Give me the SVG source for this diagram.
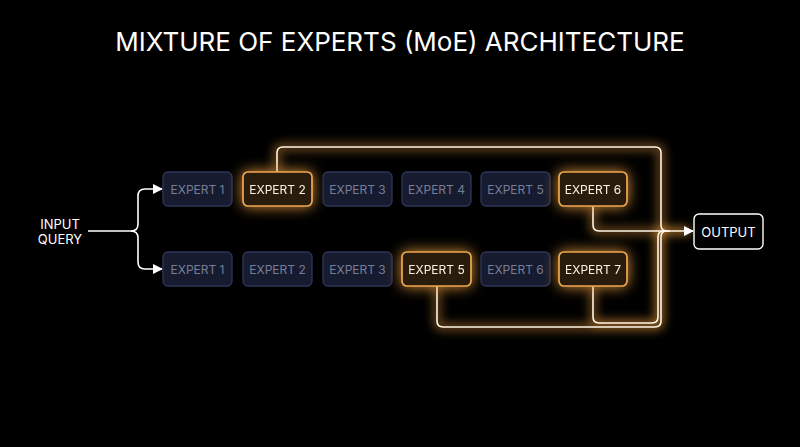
<svg xmlns="http://www.w3.org/2000/svg" width="800" height="447" viewBox="0 0 800 447">
<defs>
<style>
.t{font-family:Inter,"Noto Sans","Liberation Sans",sans-serif;text-anchor:middle;dominant-baseline:central}
.title{font-size:26px;fill:#ffffff;font-weight:400}
.off rect{fill:#161b30;stroke:#2f3658;stroke-width:1.3}
.off text{font-size:12px;fill:#767d95}
.on rect{fill:#2a1b0a;stroke:#f0a850;stroke-width:1.7}
.on text{font-size:12px;fill:#fdf2e2}
.lbl{font-size:13px;fill:#ffffff}
.wire{fill:none;stroke:#fff6e8;stroke-width:1.6}
.glowwire{fill:none;stroke:#e89a3a;stroke-width:8;opacity:0.45}
.in{fill:none;stroke:#ffffff;stroke-width:1.6}
</style>
<filter id="glow" x="-60%" y="-80%" width="220%" height="260%">
<feGaussianBlur in="SourceAlpha" stdDeviation="7" result="b"/>
<feFlood flood-color="#f0a040" flood-opacity="0.9"/>
<feComposite in2="b" operator="in" result="g"/>
<feMerge><feMergeNode in="g"/><feMergeNode in="SourceGraphic"/></feMerge>
</filter>
<filter id="lineglow" x="-20%" y="-20%" width="140%" height="140%">
<feGaussianBlur stdDeviation="5"/>
</filter>
<marker id="ah" viewBox="0 0 10 10" refX="9" refY="5" markerWidth="10" markerHeight="10" markerUnits="userSpaceOnUse" orient="auto">
<path d="M0,0 L10,5 L0,10 z" fill="#ffffff"/>
</marker>
</defs>
<rect width="800" height="447" fill="#000000"/>
<text class="t title" x="400" y="41">MIXTURE OF EXPERTS (MoE) ARCHITECTURE</text>

<g id="connectors">
<g filter="url(#lineglow)">
<path class="glowwire" d="M277,172 V153 Q277,147 283,147 H655 Q661,147 661,153 V225 Q661,231 667,231 H690"/>
<path class="glowwire" d="M593,206 V225 Q593,231 599,231 H690"/>
<path class="glowwire" d="M437,286 V321 Q437,327 443,327 H655 Q661,327 661,321 V237 Q661,231 667,231"/>
<path class="glowwire" d="M593,286 V317 Q593,323 599,323 H652 Q658,323 658,317 V237 Q658,231 664,231"/>
</g>
<path class="wire" d="M277,172 V153 Q277,147 283,147 H655 Q661,147 661,153 V225 Q661,231 667,231 H693" marker-end="url(#ah)"/>
<path class="wire" d="M593,206 V225 Q593,231 599,231 H670"/>
<path class="wire" d="M437,286 V321 Q437,327 443,327 H655 Q661,327 661,321 V237 Q661,231 667,231"/>
<path class="wire" d="M593,286 V317 Q593,323 599,323 H652 Q658,323 658,317 V237 Q658,231 664,231"/>
<path class="in" d="M88,231 H131 Q138,231 138,224 V196 Q138,189 145,189 H162" marker-end="url(#ah)"/>
<path class="in" d="M131,231 Q138,231 138,238 V262 Q138,269 145,269 H162" marker-end="url(#ah)"/>
</g>

<g id="input"><text class="t lbl" x="60" y="224">INPUT</text><text class="t lbl" x="60" y="239">QUERY</text></g>

<g id="r1e1" class="off"><rect x="163" y="172" width="69" height="34" rx="5"/><text class="t" x="197.5" y="189">EXPERT 1</text></g>
<g id="r1e2" class="on" filter="url(#glow)"><rect x="243" y="172" width="69" height="34" rx="5"/><text class="t" x="277.5" y="189">EXPERT 2</text></g>
<g id="r1e3" class="off"><rect x="323" y="172" width="69" height="34" rx="5"/><text class="t" x="357.5" y="189">EXPERT 3</text></g>
<g id="r1e4" class="off"><rect x="402" y="172" width="69" height="34" rx="5"/><text class="t" x="436.5" y="189">EXPERT 4</text></g>
<g id="r1e5" class="off"><rect x="481" y="172" width="69" height="34" rx="5"/><text class="t" x="515.5" y="189">EXPERT 5</text></g>
<g id="r1e6" class="on" filter="url(#glow)"><rect x="559" y="172" width="68" height="34" rx="5"/><text class="t" x="593" y="189">EXPERT 6</text></g>

<g id="r2e1" class="off"><rect x="163" y="252" width="69" height="34" rx="5"/><text class="t" x="197.5" y="269">EXPERT 1</text></g>
<g id="r2e2" class="off"><rect x="243" y="252" width="69" height="34" rx="5"/><text class="t" x="277.5" y="269">EXPERT 2</text></g>
<g id="r2e3" class="off"><rect x="323" y="252" width="69" height="34" rx="5"/><text class="t" x="357.5" y="269">EXPERT 3</text></g>
<g id="r2e5" class="on" filter="url(#glow)"><rect x="402" y="252" width="69" height="34" rx="5"/><text class="t" x="436.5" y="269">EXPERT 5</text></g>
<g id="r2e6" class="off"><rect x="481" y="252" width="69" height="34" rx="5"/><text class="t" x="515.5" y="269">EXPERT 6</text></g>
<g id="r2e7" class="on" filter="url(#glow)"><rect x="559" y="252" width="68" height="34" rx="5"/><text class="t" x="593" y="269">EXPERT 7</text></g>

<g id="output"><rect x="694" y="214" width="69" height="35" rx="5" fill="#000000" stroke="#ffffff" stroke-width="1.4"/><text class="t" x="728.5" y="231.5" style="font-size:13px;fill:#ffffff">OUTPUT</text></g>
</svg>
